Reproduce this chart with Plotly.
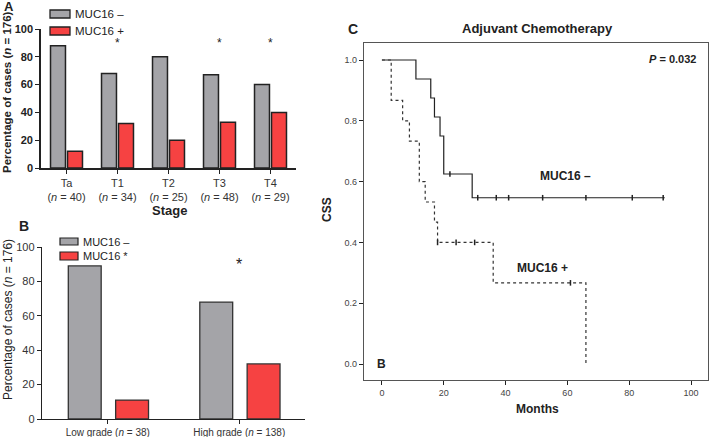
import plotly.graph_objects as go

# ---------- data ----------
stage_labels = ["Ta<br>(<i>n</i> = 40)", "T1<br>(<i>n</i> = 34)", "T2<br>(<i>n</i> = 25)",
                "T3<br>(<i>n</i> = 48)", "T4<br>(<i>n</i> = 29)"]
stage_neg = [88, 68, 80, 67, 60]
stage_pos = [12, 32, 20, 33, 40]
stage_star = [False, True, False, True, True]

grade_labels = ["Low grade (<i>n</i> = 38)", "High grade (<i>n</i> = 138)"]
grade_neg = [89, 68]
grade_pos = [11, 32]
grade_star = [False, True]

# Kaplan-Meier (months, survival)
km_neg_t = [0, 11, 11, 15.8, 15.8, 17, 17, 18.8, 18.8, 20, 20, 29.2, 29.2, 91.5]
km_neg_s = [1.0, 1.0, 0.9375, 0.9375, 0.875, 0.875, 0.8125, 0.8125, 0.75, 0.75, 0.625, 0.625, 0.547, 0.547]
km_neg_cens_t = [22, 31, 37, 41, 52, 66, 81, 91]
km_neg_cens_s = [0.625, 0.547, 0.547, 0.547, 0.547, 0.547, 0.547, 0.547]

km_pos_t = [0, 3, 3, 6.7, 6.7, 8.9, 8.9, 12.1, 12.1, 14, 14, 17, 17, 18, 18, 36, 36, 66, 66]
km_pos_s = [1.0, 1.0, 0.867, 0.867, 0.8, 0.8, 0.733, 0.733, 0.6, 0.6, 0.533, 0.533, 0.467, 0.467, 0.4, 0.4, 0.267, 0.267, 0.0]
km_pos_cens_t = [18, 24, 30, 61]
km_pos_cens_s = [0.4, 0.4, 0.4, 0.267]

GRAY = "#a4a4a8"
RED = "#f64242"
FONT = "Liberation Sans, Arial, sans-serif"
W, H = 709, 437

def px(x):
    return x / W

def py(y):
    return 1 - y / H

fig = go.Figure()

# Panel A
fig.add_trace(go.Bar(x=stage_labels, y=stage_neg, marker=dict(color=GRAY, line=dict(color="#222", width=1.5)),
                     xaxis="x", yaxis="y", showlegend=False))
fig.add_trace(go.Bar(x=stage_labels, y=stage_pos, marker=dict(color=RED, line=dict(color="#222", width=1.5)),
                     xaxis="x", yaxis="y", showlegend=False))
# Panel B
fig.add_trace(go.Bar(x=grade_labels, y=grade_neg, marker=dict(color=GRAY, line=dict(color="#333", width=1.3)),
                     xaxis="x2", yaxis="y2", showlegend=False, offsetgroup="n", width=0.25, offset=-0.3))
fig.add_trace(go.Bar(x=grade_labels, y=grade_pos, marker=dict(color=RED, line=dict(color="#333", width=1.3)),
                     xaxis="x2", yaxis="y2", showlegend=False, offsetgroup="p", width=0.25, offset=0.06))
# Panel C
fig.add_trace(go.Scatter(x=km_neg_t, y=km_neg_s, mode="lines", line=dict(color="#222", width=1.2),
                         xaxis="x3", yaxis="y3", showlegend=False))
fig.add_trace(go.Scatter(x=km_neg_cens_t, y=km_neg_cens_s, mode="markers",
                         marker=dict(symbol="line-ns", size=4, line=dict(color="#222", width=1.5)),
                         xaxis="x3", yaxis="y3", showlegend=False))
fig.add_trace(go.Scatter(x=km_pos_t, y=km_pos_s, mode="lines", line=dict(color="#333", width=1.2, dash="dot"),
                         xaxis="x3", yaxis="y3", showlegend=False))
fig.add_trace(go.Scatter(x=km_pos_cens_t, y=km_pos_cens_s, mode="markers",
                         marker=dict(symbol="line-ns", size=4, line=dict(color="#222", width=1.5)),
                         xaxis="x3", yaxis="y3", showlegend=False))

axis_common = dict(showgrid=False, zeroline=False, linecolor="#222", ticks="outside", ticklen=4,
                   tickcolor="#222", automargin=False)

ann = []
shapes = []

# A legend
for (y0, y1, col, txt) in [(10, 18, GRAY, "MUC16 –"), (27, 35, RED, "MUC16 +")]:
    shapes.append(dict(type="rect", xref="paper", yref="paper", x0=px(50), x1=px(70), y0=py(y1), y1=py(y0),
                       fillcolor=col, line=dict(color="#222", width=1.3)))
    ann.append(dict(xref="paper", yref="paper", x=px(73), y=py((y0 + y1) / 2), text=txt, showarrow=False,
                    xanchor="left", yanchor="middle", font=dict(family=FONT, size=11.5, color="#222")))
# B legend
for (y0, y1, col, txt) in [(238, 245, GRAY, "MUC16 –"), (252, 260, RED, "MUC16 *")]:
    shapes.append(dict(type="rect", xref="paper", yref="paper", x0=px(60), x1=px(78), y0=py(y1), y1=py(y0),
                       fillcolor=col, line=dict(color="#222", width=1.2)))
    ann.append(dict(xref="paper", yref="paper", x=px(81), y=py((y0 + y1) / 2), text=txt, showarrow=False,
                    xanchor="left", yanchor="middle", font=dict(family=FONT, size=11, color="#222")))

# asterisks
for lab, s in zip(stage_labels, stage_star):
    if s:
        ann.append(dict(xref="x", yref="y", x=lab, y=90, text="*", showarrow=False, yanchor="middle",
                        font=dict(family=FONT, size=12, color="#222")))
for lab, s in zip(grade_labels, grade_star):
    if s:
        ann.append(dict(xref="x2", yref="y2", x=lab, y=90, text="*", showarrow=False, yanchor="middle",
                        font=dict(family=FONT, size=16, color="#222")))

# panel letters
ann.append(dict(xref="paper", yref="paper", x=px(2), y=py(7), text="<b>A</b>", showarrow=False,
                xanchor="left", yanchor="middle", font=dict(family=FONT, size=13, color="#222")))
ann.append(dict(xref="paper", yref="paper", x=px(17), y=py(226), text="<b>B</b>", showarrow=False,
                xanchor="left", yanchor="middle", font=dict(family=FONT, size=14, color="#222")))
ann.append(dict(xref="paper", yref="paper", x=px(346), y=py(29), text="<b>C</b>", showarrow=False,
                xanchor="left", yanchor="middle", font=dict(family=FONT, size=14, color="#222")))

# titles / labels
ann.append(dict(xref="paper", yref="paper", x=px(169), y=py(210), text="<b>Stage</b>", showarrow=False,
                xanchor="center", yanchor="middle", font=dict(family=FONT, size=13, color="#222")))
ann.append(dict(xref="paper", yref="paper", x=px(537), y=py(28), text="<b>Adjuvant Chemotherapy</b>", showarrow=False,
                xanchor="center", yanchor="middle", font=dict(family=FONT, size=13, color="#222")))
ann.append(dict(xref="paper", yref="paper", x=px(537), y=py(409), text="<b>Months</b>", showarrow=False,
                xanchor="center", yanchor="middle", font=dict(family=FONT, size=12, color="#222")))
ann.append(dict(xref="paper", yref="paper", x=px(327), y=py(210), text="<b>CSS</b>", showarrow=False, textangle=-90,
                xanchor="center", yanchor="middle", font=dict(family=FONT, size=12, color="#222")))
ann.append(dict(xref="paper", yref="paper", x=px(7), y=py(92), text="<b>Percentage of cases (<i>n</i> = 176)</b>",
                showarrow=False, textangle=-90, xanchor="center", yanchor="middle",
                font=dict(family=FONT, size=11.5, color="#222")))
ann.append(dict(xref="paper", yref="paper", x=px(8), y=py(320), text="Percentage of cases (<i>n</i> = 176)",
                showarrow=False, textangle=-90, xanchor="center", yanchor="middle",
                font=dict(family=FONT, size=12, color="#222")))
ann.append(dict(xref="x3", yref="y3", x=59.4, y=0.62, text="<b>MUC16 –</b>", showarrow=False,
                xanchor="center", yanchor="middle", font=dict(family=FONT, size=12, color="#222")))
ann.append(dict(xref="x3", yref="y3", x=52, y=0.316, text="<b>MUC16 +</b>", showarrow=False,
                xanchor="center", yanchor="middle", font=dict(family=FONT, size=12, color="#222")))
ann.append(dict(xref="paper", yref="paper", x=px(698), y=py(59), text="<b><i>P</i> = 0.032</b>", showarrow=False,
                xanchor="right", yanchor="middle", font=dict(family=FONT, size=11, color="#222")))
ann.append(dict(xref="x3", yref="y3", x=0, y=0.0, text="<b>B</b>", showarrow=False,
                xanchor="center", yanchor="middle", font=dict(family=FONT, size=12, color="#222")))

fig.update_layout(
    template="none",
    width=W, height=H, margin=dict(l=0, r=0, t=0, b=0, pad=0, autoexpand=False),
    paper_bgcolor="white", plot_bgcolor="white",
    barmode="group", bargap=0.333, bargroupgap=0.12,
    font=dict(family=FONT),
    xaxis=dict(axis_common, domain=[px(41), px(296)], anchor="y", range=[-0.5, 4.5], linewidth=1.6,
               tickfont=dict(family=FONT, size=11, color="#333"), showline=True),
    yaxis=dict(axis_common, domain=[py(168), py(29)], anchor="x", range=[0, 100], dtick=20, linewidth=1.6,
               showline=True, tickfont=dict(family=FONT, size=11, color="#222", weight="bold")),
    xaxis2=dict(axis_common, domain=[px(42), px(305)], anchor="y2", range=[-0.5, 1.5], linewidth=1.4,
                showline=True, tickfont=dict(family=FONT, size=10, color="#333")),
    yaxis2=dict(axis_common, domain=[py(419), py(247)], anchor="x2", range=[0, 100], dtick=20, linewidth=1.4,
                showline=True, tickfont=dict(family=FONT, size=11, color="#333")),
    xaxis3=dict(axis_common, domain=[px(364), px(708)], anchor="y3", range=[-5.8, 105.5], dtick=20,
                showline=True, mirror=True, linecolor="#555", linewidth=1.3,
                tickfont=dict(family=FONT, size=9, color="#444")),
    yaxis3=dict(axis_common, domain=[py(380), py(43)], anchor="x3", range=[-0.0526, 1.056], dtick=0.2,
                tickformat=".1f", showline=True, mirror=True, linecolor="#555", linewidth=1.3,
                tickfont=dict(family=FONT, size=9, color="#444")),
    annotations=ann, shapes=shapes,
)

fig.write_html("out.html", config={"displayModeBar": False},
               post_script=["document.body.style.margin='0';document.body.style.overflow='hidden';"])
